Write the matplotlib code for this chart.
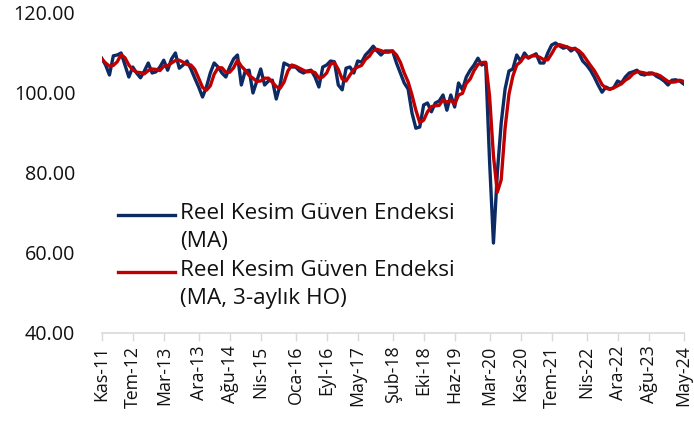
import numpy as np
import pandas as pd
import matplotlib
matplotlib.use("Agg")
import matplotlib.pyplot as plt
from matplotlib.lines import Line2D

plt.rcParams['font.family'] = ['Open Sans', 'DejaVu Sans']

# Turkish month abbreviations
month_names = ['Oca', 'Şub', 'Mar', 'Nis', 'May', 'Haz',
               'Tem', 'Ağu', 'Eyl', 'Eki', 'Kas', 'Ara']

# monthly data, Nov 2011 - May 2024
rkge_ma = [
    108.7, 107.0, 104.5, 109.3, 109.5, 110.0, 107.0, 104.0, 106.5, 105.0,
    103.8, 105.5, 107.5, 105.0, 105.3, 106.5, 108.2, 105.7, 108.5, 110.0,
    106.2, 107.0, 108.0, 106.0, 103.7, 101.5, 99.0, 101.5, 105.0, 107.5,
    106.5, 105.0, 104.0, 106.5, 108.5, 109.5, 102.0, 105.5, 105.7, 100.0,
    103.0, 106.0, 102.0, 103.0, 103.2, 98.5, 102.0, 107.5, 107.0, 106.5,
    106.5, 105.5, 105.0, 105.5, 105.7, 104.0, 101.5, 106.5, 107.0, 108.0,
    107.8, 102.0, 100.8, 106.2, 106.5, 105.0, 108.0, 107.7, 109.5, 110.5,
    111.7, 110.5, 109.5, 110.5, 110.5, 110.5, 107.5, 105.0, 102.5, 101.0,
    95.0, 91.2, 91.5, 97.0, 97.5, 95.3, 97.5, 98.0, 99.5, 95.7,
    99.5, 96.5, 102.5, 100.8, 104.0, 105.7, 107.0, 108.7, 107.0, 107.5,
    83.0, 62.5, 80.0, 92.5, 101.0, 105.5, 106.0, 109.5, 108.0, 110.0,
    108.7, 109.3, 109.8, 107.5, 107.5, 110.0, 112.0, 112.5, 111.8, 111.2,
    111.5, 110.5, 111.2, 110.0, 108.0, 107.0, 105.7, 104.0, 102.0, 100.2,
    101.5, 101.0, 101.3, 103.0, 102.5, 104.0, 105.0, 105.3, 105.7, 104.7,
    104.5, 105.0, 105.0, 104.2, 103.7, 103.0, 102.0, 103.2, 103.3, 103.0,
    102.3,
]

rkge_ma_3m = [
    108.5, 107.5, 106.7, 106.9, 107.8, 109.6, 108.8, 107.0, 105.8, 105.2,
    105.1, 104.8, 105.6, 106.0, 105.9, 105.6, 106.7, 106.8, 107.5, 108.1,
    108.2, 107.7, 107.1, 107.0, 105.9, 103.7, 101.4, 100.7, 101.8, 104.7,
    106.3, 106.3, 105.2, 105.2, 106.3, 108.2, 106.7, 105.7, 104.4, 103.7,
    102.9, 103.0, 103.7, 103.7, 102.7, 101.6, 101.2, 102.7, 105.5, 107.0,
    106.7, 106.2, 105.7, 105.3, 105.4, 105.1, 103.7, 104.0, 105.0, 107.2,
    107.6, 105.9, 103.5, 103.0, 104.5, 105.9, 106.5, 106.9, 108.4, 109.2,
    110.6, 110.9, 110.6, 110.2, 110.2, 110.5, 109.5, 107.7, 105.0, 102.8,
    99.5, 95.7, 92.6, 93.2, 95.3, 96.6, 96.8, 96.9, 98.3, 97.7,
    98.2, 97.2, 99.5, 99.9, 102.4, 103.5, 105.6, 107.1, 107.6, 107.7,
    99.2, 84.3, 75.2, 78.3, 91.2, 99.7, 104.2, 107.0, 107.8, 109.2,
    108.9, 109.3, 109.3, 108.9, 108.3, 108.3, 109.8, 111.5, 112.1, 111.8,
    111.5, 111.1, 111.1, 110.6, 109.7, 108.3, 106.9, 105.6, 103.9, 102.1,
    101.2, 100.9, 101.3, 101.8, 102.3, 103.2, 103.8, 104.8, 105.3, 105.2,
    105.0, 104.7, 104.8, 104.7, 104.3, 103.6, 102.9, 102.7, 102.8, 103.2,
    102.9,
]

tick_labels = ['Kas-11', 'Tem-12', 'Mar-13', 'Ara-13', 'Ağu-14', 'Nis-15',
               'Oca-16', 'Eyl-16', 'May-17', 'Şub-18', 'Eki-18', 'Haz-19',
               'Mar-20', 'Kas-20', 'Tem-21', 'Nis-22', 'Ara-22', 'Ağu-23',
               'May-24']

dates = pd.date_range('2011-11-01', periods=len(rkge_ma), freq='MS')
date_labels = [f"{month_names[d.month - 1]}-{d.year % 100:02d}" for d in dates]
x = np.arange(len(dates))
tick_pos = [date_labels.index(t) for t in tick_labels]

blue = '#0c2a63'
red = '#c00000'
grey = '#d9d9d9'
txt = '#111111'

fig = plt.figure(figsize=(6.94, 4.25), dpi=100)
ax = fig.add_axes([101.7 / 694, 1 - 333 / 425, (683.5 - 101.7) / 694, 320 / 425])

ax.plot(x, rkge_ma, color=blue, lw=2.4, solid_joinstyle='round')
ax.plot(x, rkge_ma_3m, color=red, lw=2.4, solid_joinstyle='round')

ax.set_xlim(0, len(x) - 1)
ax.set_ylim(40, 120)
ax.set_yticks([40, 60, 80, 100, 120])
ax.set_yticklabels([f"{v:.2f}" for v in [40, 60, 80, 100, 120]], fontsize=14.2, color=txt)
ax.tick_params(axis='y', length=0, pad=19)

ax.set_xticks(tick_pos)
ax.set_xticklabels(tick_labels, rotation=90, fontsize=12.8, color=txt)
ax.tick_params(axis='x', length=6, color=grey, width=1, pad=3)

for s in ['left', 'right', 'top']:
    ax.spines[s].set_visible(False)
ax.spines['bottom'].set_color(grey)
ax.spines['bottom'].set_linewidth(1.2)

# legend drawn by hand so the line sits on the first text row
leg_items = [(blue, 'Reel Kesim Güven Endeksi\n(MA)', 215),
             (red, 'Reel Kesim Güven Endeksi\n(MA, 3-aylık HO)', 272)]
for col, lab, ypx in leg_items:
    yf = 1 - ypx / 425
    fig.add_artist(Line2D([118 / 694, 175 / 694], [yf, yf], color=col, lw=2.4))
    fig.text(180 / 694, 1 - (ypx - 12) / 425, lab, fontsize=16.2, color=txt,
             va='top', ha='left', linespacing=1.42)

fig.savefig('out.png', dpi=100)
